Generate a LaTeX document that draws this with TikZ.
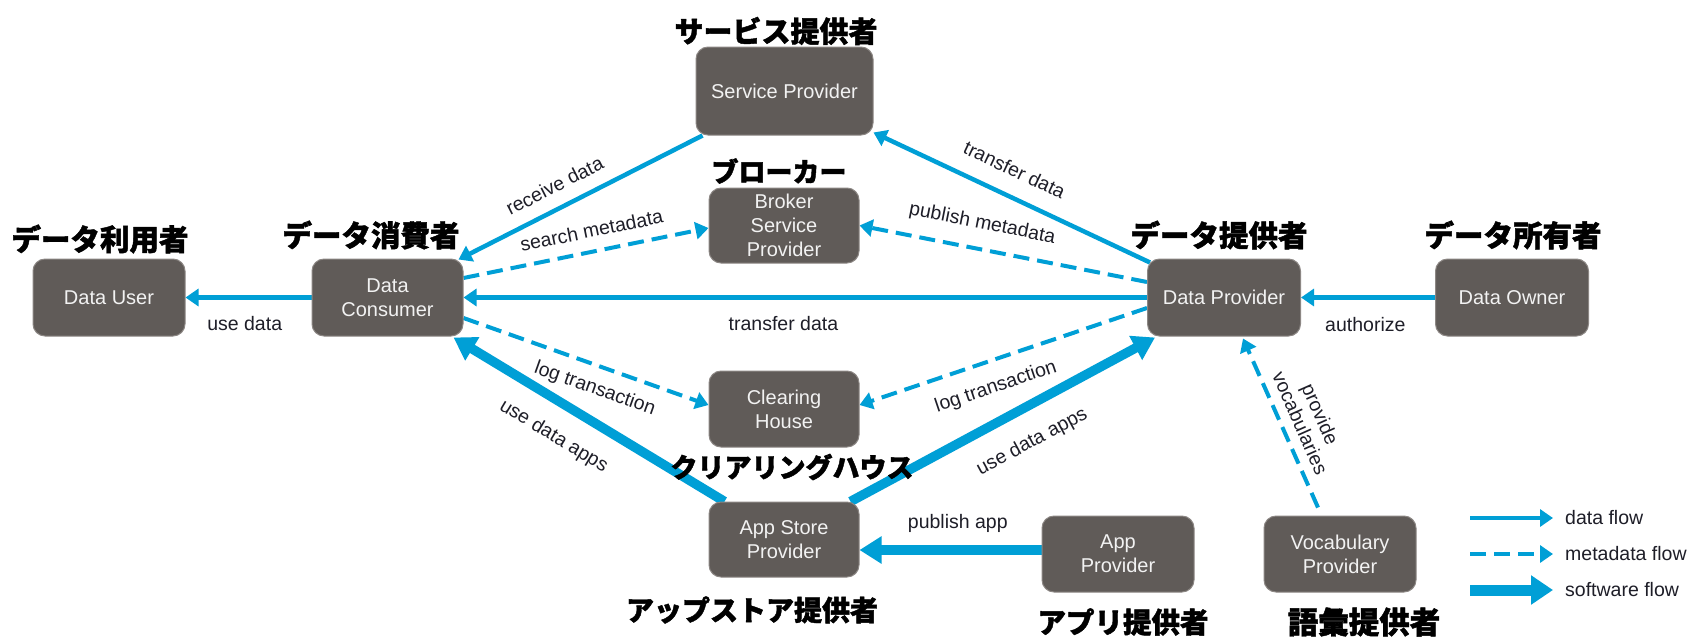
\documentclass[tikz,border=0pt]{standalone}
\usepackage{fontspec}
\setmainfont{Liberation Sans}
\newfontfamily\cjk{Noto Sans CJK JP}[BoldFeatures={FakeBold=1.5}]
\usetikzlibrary{arrows.meta,calc}
\definecolor{flow}{RGB}{0,159,214}
\definecolor{boxfill}{RGB}{96,91,88}
\definecolor{boxline}{RGB}{140,135,132}
\definecolor{boxtext}{RGB}{242,242,242}
\definecolor{labeltext}{RGB}{30,30,40}
\pgfdeclarelayer{bglayer}
\pgfdeclarelayer{edgelayer}
\pgfsetlayers{bglayer,edgelayer,main}
\begin{document}
\begin{tikzpicture}[x=1pt,y=-1pt,
  actor/.style={draw=boxline, line width=1pt, fill=boxfill, rounded corners=12pt,
    text=boxtext, align=center, font=\fontsize{20}{24}\selectfont, inner sep=0pt,
    minimum width=152pt, minimum height=77pt},
  role/.style={font=\cjk\bfseries\fontsize{29.5}{31}\selectfont, inner sep=0pt, text=black},
  lbl/.style={font=\fontsize{19.5}{22}\selectfont, text=labeltext, inner sep=0pt},
  dataflow/.style={draw=flow, line width=4.5pt, -{Triangle[length=13pt,width=17pt]}},
  metaflow/.style={dataflow, line width=4pt, dash pattern=on 16pt off 8pt},
  softflow/.style={draw=flow, line width=9.5pt, -{Triangle[length=22pt,width=26pt]}},
]
\begin{pgfonlayer}{bglayer}
\fill[white] (0,0) rectangle (1693,638);
\end{pgfonlayer}
\useasboundingbox (0,0) rectangle (1693,638);

% actors
\node[actor] (du) at (109,297.5) {Data User};
\node[actor, minimum width=151pt] (dc) at (387.5,297.5) {Data\\Consumer};
\node[actor, minimum width=177pt, minimum height=88pt] (sp) at (784.5,91) {Service Provider};
\node[actor, minimum width=150pt, minimum height=75pt] (bsp) at (784,225.5) {Broker\\Service\\Provider};
\node[actor, minimum width=150pt, minimum height=76pt] (ch) at (784,409) {Clearing\\House};
\node[actor, minimum width=150pt, minimum height=75pt] (asp) at (784,539.5) {App Store\\Provider};
\node[actor, minimum width=153pt] (dp) at (1224,297.5) {Data Provider};
\node[actor, minimum width=153pt] (dow) at (1512,297.5) {Data Owner};
\node[actor, minimum height=76pt] (ap) at (1118,554) {App\\Provider};
\node[actor, minimum height=76pt] (vp) at (1340,554) {Vocabulary\\Provider};

% role captions
\node[role] (r-du) at (100,239) {データ利用者};
\node[role] (r-dc) at (371,235) {データ消費者};
\node[role, font=\cjk\bfseries\fontsize{29}{31}\selectfont] (r-sp) at (776,31) {サービス提供者};
\node[role, font=\cjk\bfseries\fontsize{27}{31}\selectfont] (r-bsp) at (779,171) {ブローカー};
\node[role, font=\cjk\bfseries\fontsize{27}{31}\selectfont] (r-ch) at (792,467) {クリアリングハウス};
\node[role, font=\cjk\bfseries\fontsize{28}{31}\selectfont] (r-asp) at (752,610) {アップストア提供者};
\node[role] (r-dp) at (1219,235) {データ提供者};
\node[role] (r-dow) at (1513,235) {データ所有者};
\node[role, font=\cjk\bfseries\fontsize{28.5}{31}\selectfont] (r-ap) at (1123,622) {アプリ提供者};
\node[role, font=\cjk\bfseries\fontsize{30.5}{31}\selectfont] (r-vp) at (1364,622) {語彙提供者};

\begin{pgfonlayer}{edgelayer}
\draw[dataflow] (dc.west) -- node[lbl, pos=0.53, below=17pt] (l-use) {use data} (du.east);
\draw[dataflow] ($(sp.south west)+(7,0)$) -- node[lbl, sloped, pos=0.565, above=13pt] (l-recv) {receive data} ($(dc.north east)+(-5,1)$);
\draw[metaflow] ($(dc.east)+(0,-19.5)$) -- node[lbl, sloped, pos=0.54, above=12pt] (l-search) {search metadata} ($(bsp.west)+(0,2.5)$);
\draw[metaflow] ($(dp.west)+(0,-15.5)$) -- node[lbl, sloped, pos=0.59, above=14pt] (l-pubmeta) {publish metadata} (bsp.east);
\draw[dataflow] ($(dp.north west)+(3,4)$) -- node[lbl, sloped, pos=0.53, above=17pt] (l-trup) {transfer data} ($(sp.south east)+(0,-3)$);
\draw[dataflow] (dp.west) -- node[lbl, pos=0.532, below=17pt] (l-trmid) {transfer data} (dc.east);
\draw[metaflow] ($(dc.east)+(0,20.5)$) -- node[lbl, sloped, pos=0.567, below=12pt] (l-logl) {log transaction} ($(ch.west)+(0,-4)$);
\draw[metaflow] ($(dp.west)+(0,10.5)$) -- node[lbl, sloped, pos=0.555, below=15.5pt] (l-logr) {log transaction} ($(ch.east)+(0,-4)$);
\draw[softflow] ($(asp.north west)+(16,0)$) -- node[lbl, sloped, pos=0.568, below=19pt] (l-appl) {use data apps} ($(dc.south east)+(-10,1)$);
\draw[softflow] ($(asp.north east)+(-9,0)$) -- node[lbl, sloped, pos=0.544, below=20pt] (l-appr) {use data apps} ($(dp.south west)+(8,1)$);
\draw[softflow] ($(ap.west)+(0,-4)$) -- node[lbl, pos=0.46, above=13pt] (l-pubapp) {publish app} ($(asp.east)+(0,10.5)$);
\draw[metaflow] ($(vp.north)+(-22,-8)$) -- node[lbl, sloped, pos=0.456, above=9pt, align=center] (l-voc) {provide\\vocabularies} ($(dp.south)+(19,2)$);
\draw[dataflow] (dow.west) -- node[lbl, pos=0.52, below=18pt] (l-auth) {authorize} (dp.east);

% legend
\coordinate (lg1a) at (1470,518); \coordinate (lg1b) at (1553,518);
\coordinate (lg2a) at (1470,554); \coordinate (lg2b) at (1553,554);
\coordinate (lg3a) at (1470,590); \coordinate (lg3b) at (1553,590);
\draw[dataflow] (lg1a) -- (lg1b);
\draw[metaflow] (lg2a) -- (lg2b);
\draw[softflow, line width=11pt, -{Triangle[length=22pt,width=28pt]}] (lg3a) -- (lg3b);
\end{pgfonlayer}
\node[lbl, anchor=west] (lg1) at (1565,518) {data flow};
\node[lbl, anchor=west] (lg2) at (1565,554) {metadata flow};
\node[lbl, anchor=west] (lg3) at (1565,590) {software flow};
\end{tikzpicture}
\end{document}
